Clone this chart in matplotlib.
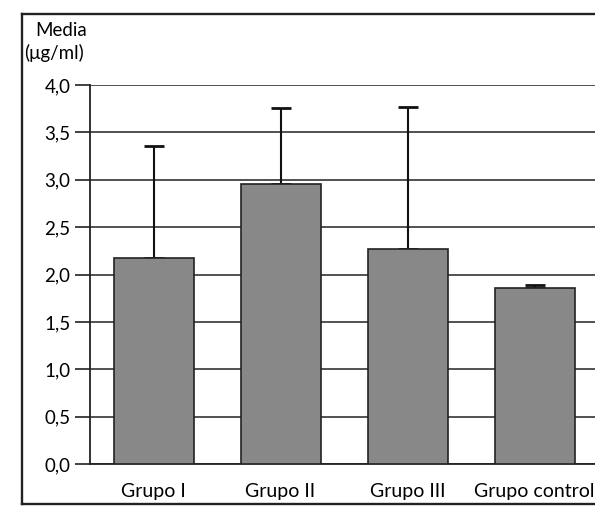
import matplotlib.pyplot as plt

# Mean concentration per group with upper standard deviation
grupos = ["Grupo I", "Grupo II", "Grupo III", "Grupo control"]
medias = [2.17, 2.96, 2.27, 1.86]
desv = [1.19, 0.80, 1.50, 0.03]
yticks = [0.0, 0.5, 1.0, 1.5, 2.0, 2.5, 3.0, 3.5, 4.0]
ytick_labels = ["0,0", "0,5", "1,0", "1,5", "2,0", "2,5", "3,0", "3,5", "4,0"]

plt.rcParams['font.family'] = ['Lato', 'DejaVu Sans']

fig = plt.figure(figsize=(5.95, 5.07), dpi=100)

# outer frame: its right side runs off the page
box = fig.add_axes([0.037, 0.005, 1.0, 0.968], zorder=0)
box.set_xticks([])
box.set_yticks([])
box.patch.set_alpha(0)
for side in ["left", "top", "bottom", "right"]:
    box.spines[side].set_linewidth(1.7)
    box.spines[side].set_color("#222222")

ax = fig.add_axes([0.1513, 0.0848, 0.8538, 0.7475], zorder=1)
ax.patch.set_alpha(0)

x = range(len(grupos))
ax.bar(x, medias, width=0.63, color="#888888", edgecolor="#222222",
       linewidth=1.2, zorder=3)
ax.errorbar(x, medias, yerr=[[0] * len(desv), desv], fmt="none",
            ecolor="#111111", elinewidth=1.5, capsize=7, capthick=2, zorder=2)

ax.set_xlim(-0.5, 3.5)
ax.set_ylim(0, 4.0)
ax.set_yticks(yticks)
ax.set_yticklabels(ytick_labels, fontsize=13.5)
ax.set_xticks(list(x))
ax.set_xticklabels(grupos, fontsize=14)
ax.tick_params(axis="x", length=0, pad=14)
ax.tick_params(axis="y", length=11, width=1.2, direction="out", pad=3,
               color="#222222")
ax.grid(axis="y", color="#333333", linewidth=1.2, zorder=0)

for side in ["top", "right"]:
    ax.spines[side].set_visible(False)
ax.spines["left"].set_linewidth(1.3)
ax.spines["bottom"].set_linewidth(1.3)
ax.spines["left"].set_color("#222222")
ax.spines["bottom"].set_color("#222222")

fig.text(0.059, 0.940, "Media", fontsize=13.5, ha="left", va="center")
fig.text(0.040, 0.895, "(μg/ml)", fontsize=13.5, ha="left", va="center")

fig.savefig("out.png", dpi=100)
